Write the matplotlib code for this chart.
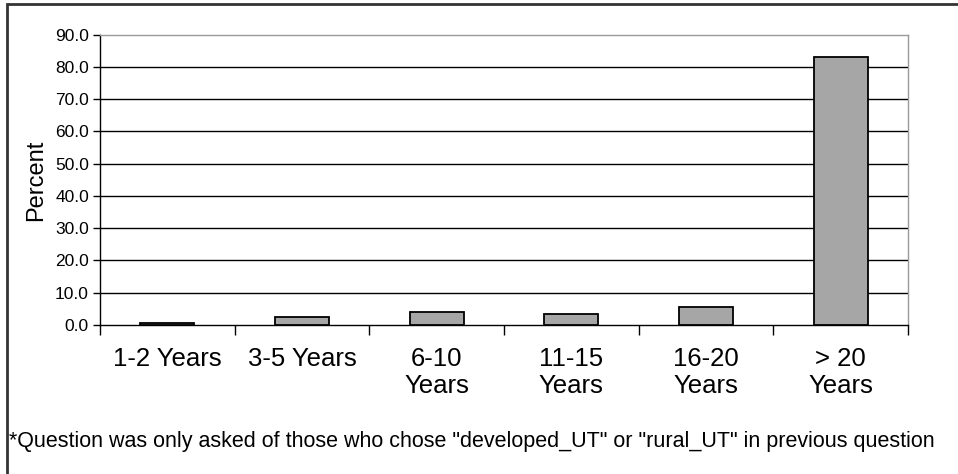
import matplotlib.pyplot as plt
from matplotlib.patches import Rectangle
import numpy as np

# data
categories = ["1-2 Years", "3-5 Years", "6-10\nYears", "11-15\nYears", "16-20\nYears", "> 20\nYears"]
percent = [0.7, 2.5, 3.9, 3.4, 5.6, 83.2]
y_ticks = [0, 10, 20, 30, 40, 50, 60, 70, 80, 90]
footnote = '*Question was only asked of those who chose "developed_UT" or "rural_UT" in previous question'

plt.rcParams['font.family'] = ['Liberation Sans', 'DejaVu Sans']

fig = plt.figure(figsize=(9.58, 4.74), dpi=100)
ax = fig.add_axes([100 / 958, 1 - 325 / 474, 808 / 958, (325 - 34.7) / 474])

x = np.arange(len(categories))
ax.bar(x, percent, width=0.4, color="#a6a6a6", edgecolor="black", linewidth=1.3, zorder=3)

ax.set_xlim(-0.5, len(categories) - 0.5)
ax.set_ylim(0, 90)
ax.set_yticks(y_ticks)
ax.set_yticklabels([f"{v:.1f}" for v in y_ticks], fontsize=12.5)
ax.set_ylabel("Percent", fontsize=17, labelpad=6)

# boundaries as major ticks, labels on minor ticks at centres
ax.set_xticks(np.arange(-0.5, len(categories), 1.0))
ax.set_xticklabels([])
ax.set_xticks(x, minor=True)
ax.set_xticklabels(categories, minor=True, fontsize=18.5, linespacing=1.15)
ax.tick_params(axis="x", which="major", length=7, width=1, direction="out")
ax.tick_params(axis="x", which="minor", length=0, pad=16)
ax.tick_params(axis="y", length=5, width=1, direction="out", pad=3)

for v in y_ticks[1:-1]:
    ax.axhline(v, color="black", linewidth=1, zorder=1)

ax.spines["left"].set_color("black")
ax.spines["bottom"].set_color("black")
ax.spines["top"].set_color("#999999")
ax.spines["right"].set_color("#999999")
for s in ax.spines.values():
    s.set_linewidth(1)

note = fig.text(9 / 958, 1 - 441 / 474, footnote, fontsize=16, va="center", ha="left")
# shrink the footnote until it fits the frame width
renderer = fig.canvas.get_renderer()
while note.get_window_extent(renderer).width > 938 and note.get_fontsize() > 8:
    note.set_fontsize(note.get_fontsize() - 0.25)

# outer frame of the chart
fig.patches.append(Rectangle((7 / 958, -0.05), 1.0, 1 - 4 / 474 + 0.05, transform=fig.transFigure,
                             fill=False, edgecolor="#333333", linewidth=2))

fig.savefig("out.png", dpi=100)
